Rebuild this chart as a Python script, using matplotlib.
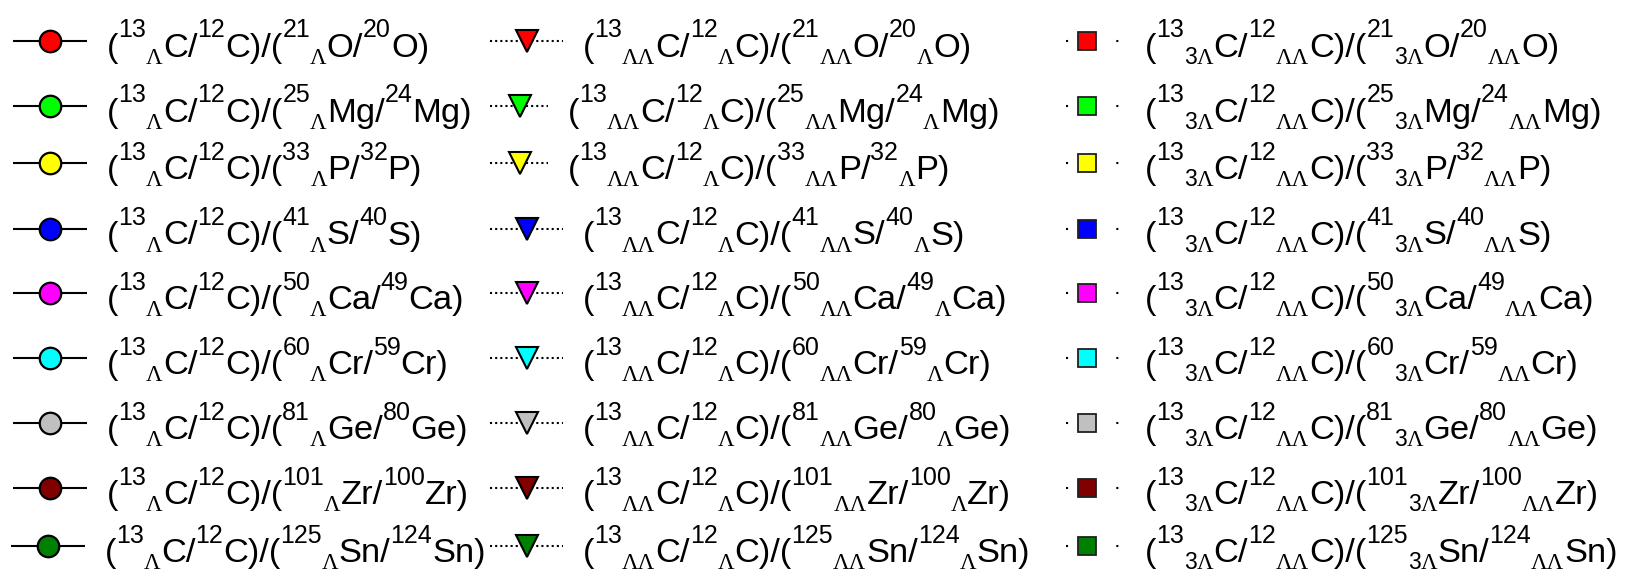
import matplotlib
matplotlib.use("Agg")
import matplotlib.pyplot as plt

# ---- series data ---------------------------------------------------------
elements = ["O", "Mg", "P", "S", "Ca", "Cr", "Ge", "Zr", "Sn"]
mass_heavy = [21, 25, 33, 41, 50, 60, 81, 101, 125]
mass_light = [20, 24, 32, 40, 49, 59, 80, 100, 124]
colors = ["#ff0000", "#00ff00", "#ffff00", "#0000ff", "#ff00ff",
          "#00ffff", "#c0c0c0", "#800000", "#008000"]

# ---- figure / canvas in pixel units -------------------------------------
W, H, DPI = 1631, 579, 100
fig = plt.figure(figsize=(W / DPI, H / DPI), dpi=DPI)
ax = fig.add_axes([0, 0, 1, 1])
ax.set_xlim(0, W)
ax.set_ylim(H, 0)
ax.axis("off")
renderer = fig.canvas.get_renderer()
plt.rcParams["lines.scale_dashes"] = False

row_y = [40.7, 105.6, 163.3, 228.5, 293.3, 358.1, 423.0, 488.1, 546.3]

SANS = "Liberation Sans"
SERIF = "Liberation Serif"
SIZE = {0: 24.8, 1: 18, -1: 16.5}
SHIFT = {0: 0.0, 1: -19.5, -1: 7.0}
BASE_OFF = 16.0

SUP, SUB, MAIN = 1, -1, 0
L1, L2, L3 = "\u039b", "\u039b\u039b", "3\u039b"


def draw_rich(x, y, segs):
    """Lay out a sequence of (text, level) pieces left to right."""
    for s, lvl in segs:
        chunks = []
        for ch in s:
            serif = ch == "\u039b"
            if chunks and chunks[-1][1] == serif:
                chunks[-1][0] += ch
            else:
                chunks.append([ch, serif])
        for chunk, serif in chunks:
            t = ax.text(x, y + SHIFT[lvl], chunk, fontsize=SIZE[lvl],
                        family=SERIF if serif else SANS,
                        va="baseline", ha="left", color="black")
            x += t.get_window_extent(renderer).width


def label_single(i):
    e = elements[i]
    return [("(", MAIN), ("13", SUP), (L1, SUB), ("C/", MAIN), ("12", SUP),
            ("C)/(", MAIN), (str(mass_heavy[i]), SUP), (L1, SUB),
            (e + "/", MAIN), (str(mass_light[i]), SUP), (e + ")", MAIN)]


def label_double(i):
    e = elements[i]
    return [("(", MAIN), ("13", SUP), (L2, SUB), ("C/", MAIN), ("12", SUP),
            (L1, SUB), ("C)/(", MAIN), (str(mass_heavy[i]), SUP), (L2, SUB),
            (e + "/", MAIN), (str(mass_light[i]), SUP), (L1, SUB),
            (e + ")", MAIN)]


def label_triple(i):
    e = elements[i]
    return [("(", MAIN), ("13", SUP), (L3, SUB), ("C/", MAIN), ("12", SUP),
            (L2, SUB), ("C)/(", MAIN), (str(mass_heavy[i]), SUP), (L3, SUB),
            (e + "/", MAIN), (str(mass_light[i]), SUP), (L2, SUB),
            (e + ")", MAIN)]


for i, y in enumerate(row_y):
    c = colors[i]

    # column 1: solid line with circle
    dx = -2 if i == len(row_y) - 1 else 0
    ax.plot([13 + dx, 87 + dx], [y, y], color="black", lw=1.5,
            solid_capstyle="butt")
    ax.plot([50 + dx], [y], marker="o", ms=15.5, mfc=c, mec="black",
            mew=1.6, ls="none")
    draw_rich(107 + dx, y + BASE_OFF, label_single(i))

    # column 2: dotted line with down triangle
    short = i in (1, 2)
    x_end, x_mk, x_txt = (548, 520, 568) if short else (563, 527, 583)
    ax.plot([490, x_end], [y, y], color="black", lw=1.5,
            dashes=(1.5, 2.2), solid_capstyle="butt", dash_capstyle="butt")
    ax.plot([x_mk], [y], marker="v", ms=15.5, mfc=c, mec="black",
            mew=1.5, ls="none")
    draw_rich(x_txt, y + BASE_OFF, label_double(i))

    # column 3: sparse dotted line with square
    ax.plot([1066, 1119], [y, y], color="black", lw=1.5,
            dashes=(1.5, 16.6), dash_capstyle="butt")
    ax.plot([1087], [y], marker="s", ms=13, mfc=c, mec="#202020",
            mew=1.3, ls="none")
    draw_rich(1145, y + BASE_OFF, label_triple(i))

fig.savefig("out.png", dpi=DPI, facecolor="white")
